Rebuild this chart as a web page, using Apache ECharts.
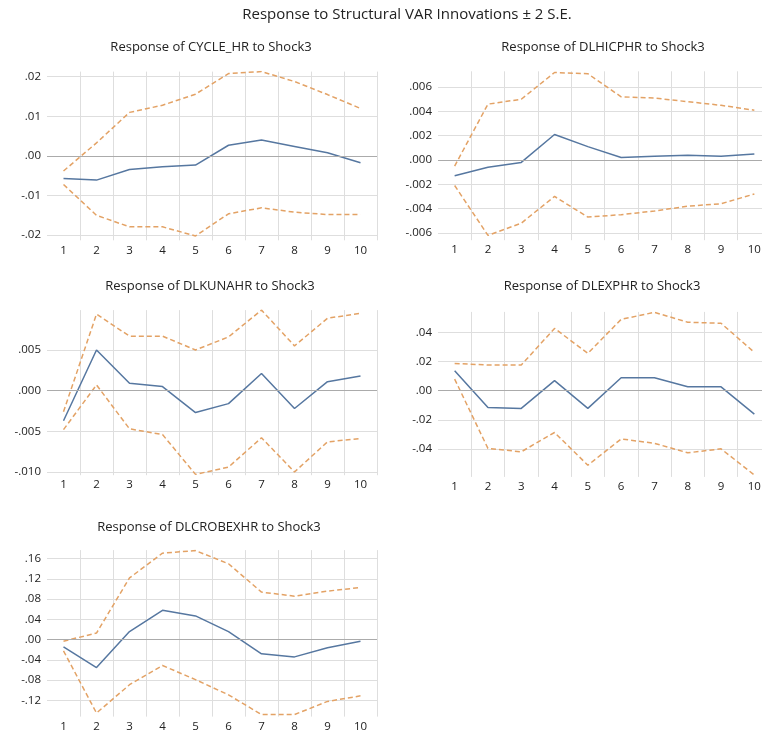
<!DOCTYPE html>
<html>
<head>
<meta charset="utf-8">
<script src="https://cdn.jsdelivr.net/npm/echarts@6/dist/echarts.min.js"></script>
<style>
html,body{margin:0;padding:0;background:#fff;overflow:hidden;width:762px;height:737px;}
#chart{width:780px;height:737px;}
</style>
</head>
<body>
<div id="chart"></div>
<script>
// ---- data ----
const periods = ['1','2','3','4','5','6','7','8','9','10'];

const cycleResp = [-0.0057,-0.0061,-0.0034,-0.0027,-0.0023,0.0027,0.0040,0.0024,0.0008,-0.0017];
const cycleUp   = [-0.0038,0.0033,0.0110,0.0128,0.0156,0.0208,0.0213,0.0188,0.0155,0.0120];
const cycleLo   = [-0.0072,-0.0150,-0.0179,-0.0179,-0.0202,-0.0146,-0.0131,-0.0142,-0.0148,-0.0148];

const hicpResp = [-0.0013,-0.0006,-0.0002,0.0021,0.0011,0.0002,0.0003,0.0004,0.0003,0.0005];
const hicpUp   = [-0.0005,0.0046,0.0050,0.0072,0.0071,0.0052,0.0051,0.0048,0.0045,0.0041];
const hicpLo   = [-0.0021,-0.0062,-0.0052,-0.0030,-0.0047,-0.0045,-0.0042,-0.0038,-0.0036,-0.0028];

const kunaResp = [-0.0037,0.0050,0.0009,0.0005,-0.0027,-0.0016,0.0021,-0.0022,0.0011,0.0018];
const kunaUp   = [-0.0026,0.0094,0.0067,0.0067,0.0050,0.0066,0.0099,0.0055,0.0089,0.0095];
const kunaLo   = [-0.0048,0.0007,-0.0047,-0.0054,-0.0103,-0.0094,-0.0058,-0.0100,-0.0063,-0.0059];

const expResp = [0.0137,-0.0114,-0.0121,0.0069,-0.0121,0.0089,0.0089,0.0027,0.0027,-0.0160];
const expUp   = [0.0187,0.0176,0.0176,0.0427,0.0256,0.0489,0.0537,0.0469,0.0462,0.0263];
const expLo   = [0.0080,-0.0395,-0.0418,-0.0286,-0.0510,-0.0330,-0.0360,-0.0425,-0.0398,-0.0577];

const crobResp = [-0.014,-0.055,0.016,0.058,0.047,0.016,-0.028,-0.034,-0.016,-0.003];
const crobUp   = [-0.003,0.013,0.122,0.171,0.176,0.150,0.094,0.086,0.096,0.103];
const crobLo   = [-0.022,-0.145,-0.089,-0.051,-0.079,-0.109,-0.148,-0.148,-0.122,-0.111];

const mainTitle = 'Response to Structural VAR Innovations \u00b1 2 S.E.';
const panelTitles = [
  'Response of CYCLE_HR to Shock3',
  'Response of DLHICPHR to Shock3',
  'Response of DLKUNAHR to Shock3',
  'Response of DLEXPHR to Shock3',
  'Response of DLCROBEXHR to Shock3'
];
const panelData = [
  [cycleResp, cycleUp, cycleLo],
  [hicpResp, hicpUp, hicpLo],
  [kunaResp, kunaUp, kunaLo],
  [expResp, expUp, expLo],
  [crobResp, crobUp, crobLo]
];
const yMins = [-0.0213, -0.0066, -0.0104, -0.059, -0.152];
const yMaxs = [0.0213, 0.0073, 0.0099, 0.054, 0.177];
const yStep = [0.01, 0.002, 0.005, 0.02, 0.04];
const yDecimals = [2, 3, 3, 2, 2];

// ---- layout (positions/styles) ----
// the right-hand panels run past the 762px window edge, as in the reference
const layouts = [
  {left: 47,  top: 71.6,  width: 330, height: 168.7, tx: 211, ty: 47},
  {left: 438, top: 71.3,  width: 333, height: 168.9, tx: 603, ty: 47},
  {left: 47,  top: 310.1, width: 330, height: 165.1, tx: 210, ty: 286},
  {left: 438, top: 311.9, width: 333, height: 165,   tx: 602, ty: 286},
  {left: 47,  top: 550.1, width: 330, height: 166.5, tx: 209, ty: 527}
];
const BLUE = '#5677a0';
const ORANGE = '#e3a265';
const FONT = 'Open Sans';

function fmt(v, d) {
  let s = Math.abs(v) < 1e-12 ? (0).toFixed(d) : v.toFixed(d);
  return s.replace('0.', '.');
}

const grid = [], xAxis = [], yAxis = [], series = [];
const graphic = [{
  type: 'text', x: 407, y: 15,
  style: {text: mainTitle, fill: '#222', font: '15px "Open Sans"', textAlign: 'center', textVerticalAlign: 'middle'}
}];

layouts.forEach((L, i) => {
  grid.push({left: L.left, top: L.top, width: L.width, height: L.height, containLabel: false});
  xAxis.push({
    type: 'category', gridIndex: i, data: periods, boundaryGap: true,
    axisLine: {show: false}, axisTick: {show: false},
    axisLabel: {color: '#222', fontFamily: FONT, fontSize: 11.5, margin: 4},
    splitLine: {show: true, showMinLine: false, showMaxLine: true, lineStyle: {color: '#dedede', width: 1}}
  });
  yAxis.push({
    type: 'value', gridIndex: i, min: yMins[i], max: yMaxs[i],
    minInterval: yStep[i], maxInterval: yStep[i], splitNumber: 6,
    axisLine: {show: false}, axisTick: {show: false},
    axisLabel: {color: '#222', fontFamily: FONT, fontSize: 11.5, margin: 6,
      showMinLabel: false, showMaxLabel: false,
      formatter: (v) => fmt(v, yDecimals[i])},
    splitLine: {show: true, showMinLine: false, showMaxLine: false, lineStyle: {color: '#dedede', width: 1}}
  });
  const [resp, up, lo] = panelData[i];
  series.push({
    type: 'line', xAxisIndex: i, yAxisIndex: i, data: up, symbol: 'none', z: 3,
    lineStyle: {color: ORANGE, width: 1.5, type: [5, 3]}, animation: false
  });
  series.push({
    type: 'line', xAxisIndex: i, yAxisIndex: i, data: lo, symbol: 'none', z: 3,
    lineStyle: {color: ORANGE, width: 1.5, type: [5, 3]}, animation: false
  });
  series.push({
    type: 'line', xAxisIndex: i, yAxisIndex: i, data: resp, symbol: 'none', z: 4,
    lineStyle: {color: BLUE, width: 1.5}, animation: false,
    markLine: {silent: true, symbol: 'none', label: {show: false}, animation: false,
      lineStyle: {color: '#ababab', type: 'solid', width: 1},
      data: [{yAxis: 0}]}
  });
  graphic.push({
    type: 'text', x: L.tx, y: L.ty,
    style: {text: panelTitles[i], fill: '#222', font: '13px "Open Sans"', textAlign: 'center', textVerticalAlign: 'middle'}
  });
});

const chart = echarts.init(document.getElementById('chart'), null, {renderer: 'canvas'});
chart.setOption({
  animation: false,
  backgroundColor: '#fff',
  grid, xAxis, yAxis, series, graphic
});
</script>
</body>
</html>
